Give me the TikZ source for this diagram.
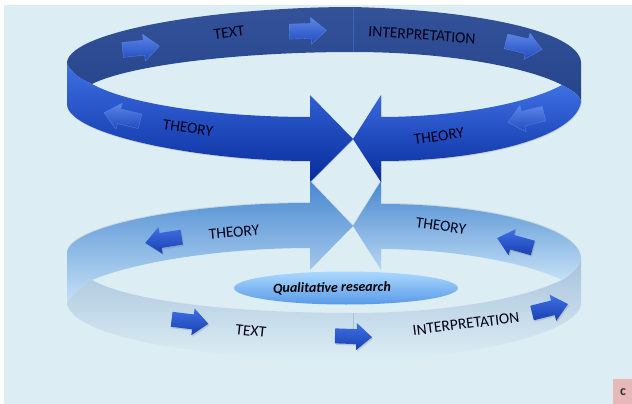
\documentclass[tikz,border=0pt]{standalone}
\usepackage{fontspec}
\setmainfont{Carlito}
\usepackage{xcolor}
\usetikzlibrary{shadows}
\definecolor{pagebg}{RGB}{220,238,244}
\definecolor{backtop}{RGB}{52,82,152}
\definecolor{backbot}{RGB}{38,68,140}
\definecolor{fronttop}{RGB}{62,112,228}
\definecolor{frontbot}{RGB}{8,44,156}
\definecolor{glasstop}{RGB}{72,136,208}
\definecolor{glassbot}{RGB}{196,224,246}
\definecolor{floortop}{RGB}{168,194,220}
\definecolor{tagpink}{RGB}{232,184,184}
\definecolor{ovaltop}{RGB}{172,216,255}
\definecolor{ovalbot}{RGB}{88,154,232}
\tikzset{
    backband/.style={top color=backtop, bottom color=backbot, draw=none},
    frontband/.style={top color=fronttop, bottom color=frontbot, draw=none, drop shadow={shadow xshift=0.5pt, shadow yshift=-1pt, opacity=0.25}},
    glassband/.style={top color=glasstop, bottom color=glassbot, draw=none, drop shadow={shadow xshift=0pt, shadow yshift=1pt, opacity=0.2}},
    floorband/.style={top color=floortop, bottom color=pagebg, draw=none},
    smallarrow/.style={top color=fronttop!85!white, bottom color=frontbot!55!fronttop, draw=fronttop!85!white, line width=0.3pt},
    liftarrow/.style={top color=fronttop, bottom color=frontbot!70!fronttop, draw=none, drop shadow={shadow xshift=1pt, shadow yshift=-1.5pt, opacity=0.3}},
    seam/.style={line width=0.4pt},
    ringlabel/.style={font=\fontsize{15.5}{17}\selectfont, text=black!90!blue, inner sep=0pt},
}
\begin{document}
\begin{tikzpicture}[x=1pt, y=-1pt]
    \useasboundingbox (0,0) rectangle (632,404);
    \fill [pagebg] (4,5) rectangle (632,404);

    % Upper ring, back
    \path [backband] (67,62) .. controls (72,30) and (220,7) .. (353,7)
        .. controls (470,10) and (578,30) .. (581,62) -- (581,102)
        .. controls (580,95) and (572,90) .. (562,85)
        .. controls (530,68) and (450,52) .. (353,52)
        .. controls (240,52) and (130,65) .. (92,84)
        .. controls (78,78) and (68,70) .. (67,62) -- cycle;
    \draw [seam, fronttop!55!backtop] (353,7) -- (353,52);

    % Upper ring, front
    \path [frontband] (67,62) -- (67,105) .. controls (70,135) and (200,161) .. (310,161)
        -- (310,182) -- (353,139) -- (310,95) -- (310,117)
        .. controls (220,117) and (130,105) .. (92,84)
        .. controls (78,78) and (68,70) .. (67,62) -- cycle;
    \path [frontband] (353,139) -- (381,95) -- (381,117)
        .. controls (450,117) and (525,105) .. (562,85)
        .. controls (572,90) and (580,95) .. (581,102)
        .. controls (575,138) and (480,161) .. (381,161)
        -- (381,182) -- cycle;

    % Lower ring, floor
    \path [floorband] (67,303) .. controls (72,295) and (82,286) .. (92,280)
        .. controls (130,302) and (240,313) .. (353,313)
        .. controls (440,313) and (520,300) .. (562,280)
        .. controls (572,274) and (580,266) .. (581,258) -- (581,305)
        .. controls (575,335) and (460,360) .. (353,360)
        .. controls (220,360) and (72,340) .. (67,303) -- cycle;
    \draw [seam, floortop] (353,313) -- (353,345);

    % Lower ring, mirrored arrows
    \path [glassband] (310,181) -- (310,203) .. controls (190,203) and (72,225) .. (67,252)
        -- (67,303) .. controls (72,295) and (82,286) .. (92,280)
        .. controls (140,260) and (230,248) .. (310,248)
        -- (310,270) -- (353,226) -- cycle;
    \path [glassband] (381,181) -- (381,204) .. controls (480,204) and (578,225) .. (581,258)
        .. controls (580,266) and (572,274) .. (562,280)
        .. controls (525,262) and (450,249) .. (381,249)
        -- (381,270) -- (353,226) -- cycle;

    % Small arrows
    \foreach \x/\y/\ang in {141/48/6, 308/31/2, 524/45.5/-13, 526/118/193.5, 122/117/166.5} {
        \path [smallarrow, shift={(\x,\y)}, rotate=\ang]
            (-18.5,7.5) -- (3,7.5) -- (3,13.5) -- (18.5,0) -- (3,-13.5) -- (3,-7.5) -- (-18.5,-7.5) -- cycle;
    }
    \foreach \x/\y/\ang in {163.5/240/189, 515/243/164.5, 190/321.5/-7, 353.5/336.5/-2, 550/308.5/14} {
        \path [liftarrow, shift={(\x,\y)}, rotate=\ang]
            (-18.5,7.5) -- (3,7.5) -- (3,13.5) -- (18.5,0) -- (3,-13.5) -- (3,-7.5) -- (-18.5,-7.5) -- cycle;
    }

    % Labels
    \node [ringlabel, rotate=7] (texttop) at (229,33) {TEXT};
    \node [ringlabel, rotate=-4] (interptop) at (422,35) {INTERPRETATION};
    \node [ringlabel, rotate=-8] (theoryleft) at (188,128) {THEORY};
    \node [ringlabel, rotate=8] (theoryright) at (439,136) {THEORY};
    \node [ringlabel, rotate=5] (glassleft) at (234,232) {THEORY};
    \node [ringlabel, rotate=-8] (glassright) at (441,226) {THEORY};
    \node [ringlabel, rotate=-6] (textlow) at (251,331) {TEXT};
    \node [ringlabel, rotate=7] (interplow) at (466,324) {INTERPRETATION};

    % Centre ellipse
    \path [top color=ovaltop, bottom color=ovalbot, draw=none] (346,288) ellipse [x radius=112, y radius=16.5];
    \node [font=\fontsize{14}{16}\selectfont\bfseries\itshape, inner sep=0pt, rotate=1] (research) at (332,288) {Qualitative research};

    % Corner tag
    \fill [tagpink] (613,379) rectangle (632,404);
    \node [font=\fontsize{14}{16}\selectfont\bfseries, inner sep=0pt, text=black!80] (tag) at (623,392) {c};
\end{tikzpicture}
\end{document}
